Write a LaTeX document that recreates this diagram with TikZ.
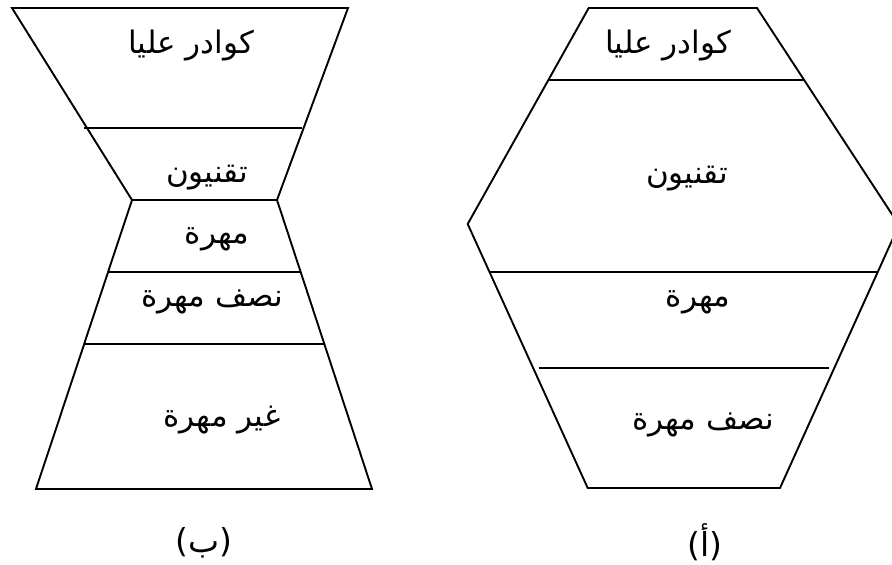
\documentclass[tikz,border=0pt]{standalone}
\usepackage{fontspec}
\newfontfamily\arabicfont[Script=Arabic]{DejaVu Sans}
\TeXXeTstate=1
\begin{document}
\begin{tikzpicture}[x=1pt,y=-1pt,
  edge/.style={line width=1.9pt, line join=miter},
  lbl/.style={font=\arabicfont\fontsize{31}{36}\selectfont, inner sep=0pt},
  caplbl/.style={font=\arabicfont\fontsize{33}{38}\selectfont, inner sep=0pt}]
\useasboundingbox (0,0) rectangle (892,565);
\clip (0,0) rectangle (892,565);
% ---- figure (b): hourglass ----
\coordinate (b1) at (12,8);
\coordinate (b2) at (348,8);
\coordinate (b3) at (277,200);
\coordinate (b4) at (372,489);
\coordinate (b5) at (36,489);
\coordinate (b6) at (132,200);
\draw[edge] (b1) -- (b2) -- (b3) -- (b4) -- (b5) -- (b6) -- cycle;
\draw[edge] (b6) -- (b3);
\coordinate (bl1a) at (84,128);  \coordinate (bl1b) at (302,128);
\coordinate (bl2a) at (108,272); \coordinate (bl2b) at (301,272);
\coordinate (bl3a) at (85,344);  \coordinate (bl3b) at (324,344);
\draw[edge] (bl1a) -- (bl1b);
\draw[edge] (bl2a) -- (bl2b);
\draw[edge] (bl3a) -- (bl3b);
\node[lbl] (bt1) at (191,46) {\beginR كوادر عليا\endR};
\node[lbl] (bt2) at (207,178) {\beginR تقنيون\endR};
\node[lbl] (bt3) at (217,239) {\beginR مهرة\endR};
\node[lbl] (bt4) at (212,302) {\beginR نصف مهرة\endR};
\node[lbl] (bt5) at (222,420) {\beginR غير مهرة\endR};
\node[caplbl] (bcap) at (204,543) {\beginR(ب)\endR};
% ---- figure (a): hexagon ----
\coordinate (a1) at (588.7,8);
\coordinate (a2) at (757,8);
\coordinate (a3) at (899,225);
\coordinate (a4) at (780,488);
\coordinate (a5) at (587.7,488);
\coordinate (a6) at (467.7,224);
\draw[edge] (a1) -- (a2) -- (a3) -- (a4) -- (a5) -- (a6) -- cycle;
\coordinate (al1a) at (549,80);    \coordinate (al1b) at (803,80);
\coordinate (al2a) at (490,271.7); \coordinate (al2b) at (878,271.7);
\coordinate (al3a) at (539,368);   \coordinate (al3b) at (829,368);
\draw[edge] (al1a) -- (al1b);
\draw[edge] (al2a) -- (al2b);
\draw[edge] (al3a) -- (al3b);
\node[lbl] (at1) at (668,46) {\beginR كوادر عليا\endR};
\node[lbl] (at2) at (687,179) {\beginR تقنيون\endR};
\node[lbl] (at3) at (698,302) {\beginR مهرة\endR};
\node[lbl] (at4) at (703,425) {\beginR نصف مهرة\endR};
\node[caplbl] (acap) at (705,542) {\beginR(أ)\endR};
\end{tikzpicture}
\end{document}
